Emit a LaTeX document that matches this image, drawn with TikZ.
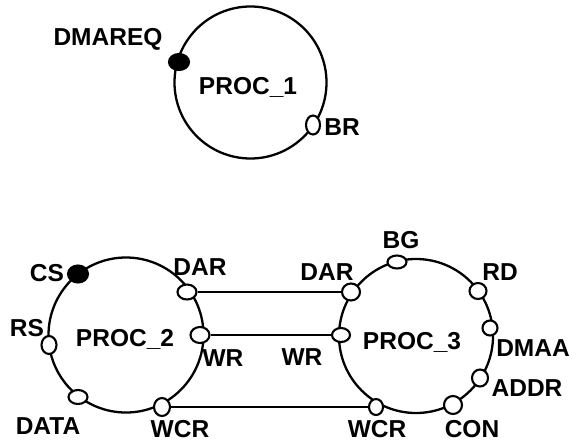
\documentclass[tikz,border=0pt]{standalone}
\usepackage{fontspec}
\setmainfont{Liberation Sans}
\usetikzlibrary{shapes.geometric}
\tikzset{
  proc/.style={circle, draw, line width=2.3pt, inner sep=0pt, minimum size=#1},
  lbl/.style={font=\fontsize{24.5}{25}\selectfont\bfseries, inner sep=0pt, text height=17.5pt, text depth=0pt},
  port/.style={ellipse, draw, line width=2.1pt, fill=white, inner sep=0pt},
  fport/.style={port, fill=black},
  hp/.style={minimum width=19pt, minimum height=14pt},
  vp/.style={minimum width=14pt, minimum height=18pt},
  rp/.style={minimum width=17pt, minimum height=16pt},
  wire/.style={line width=2.3pt}
}
\begin{document}
\begin{tikzpicture}[x=1pt,y=-1pt]
\useasboundingbox (0,0) rectangle (572,442);
% circles
\node[proc=152pt] (p1) at (250.5,82.5) {};
\node[proc=155pt] (p2) at (126,335) {};
\node[proc=154pt] (p3) at (416,336) {};
% titles
\node[lbl] (t1) at (248,86) {PROC\_1};
\node[lbl] (t2) at (125,338) {PROC\_2};
\node[lbl] (t3) at (412,341) {PROC\_3};
% PROC_1 ports
\node[fport, minimum width=20pt, minimum height=16pt] (p1dmareq) at (179,62) {};
\node[port, vp, minimum height=19pt] (p1br) at (313,125) {};
\node[lbl] (l1dmareq) at (108,37) {DMAREQ};
\node[lbl] (l1br) at (342,127) {BR};
% PROC_2 ports
\node[fport, minimum width=20pt, minimum height=17pt] (p2cs) at (78,274) {};
\node[port, hp, minimum height=15pt] (p2dar) at (187,292) {};
\node[port, hp, minimum height=16pt] (p2wr) at (200,335) {};
\node[port, vp, minimum width=15pt] (p2rs) at (49,345) {};
\node[port, hp] (p2data) at (78,397) {};
\node[port, vp, minimum width=16pt] (p2wcr) at (162,407) {};
\node[lbl] (l2cs) at (47,273) {CS};
\node[lbl] (l2dar) at (200,267) {DAR};
\node[lbl] (l2rs) at (27,328) {RS};
\node[lbl] (l2wr) at (223,358) {WR};
\node[lbl] (l2data) at (48,426) {DATA};
\node[lbl] (l2wcr) at (180,429) {WCR};
% PROC_3 ports
\node[port, hp, minimum height=13pt] (p3bg) at (397,262) {};
\node[port, minimum width=18pt, minimum height=17pt] (p3dar) at (351,292) {};
\node[port, rp] (p3rd) at (478,291) {};
\node[port, minimum width=18pt, minimum height=14pt] (p3wr) at (341,335) {};
\node[port, minimum width=15pt, minimum height=15pt] (p3dmaa) at (490,328) {};
\node[port, minimum width=16pt, minimum height=17pt] (p3addr) at (480,378) {};
\node[port, minimum width=14pt, minimum height=16pt] (p3wcr) at (376,407) {};
\node[port, minimum width=18pt, minimum height=18pt] (p3con) at (453,405) {};
\node[lbl] (l3bg) at (401,240) {BG};
\node[lbl] (l3dar) at (327,272) {DAR};
\node[lbl] (l3rd) at (500,272) {RD};
\node[lbl] (l3wr) at (302,357) {WR};
\node[lbl] (l3dmaa) at (533,348) {DMAA};
\node[lbl] (l3addr) at (527,388) {ADDR};
\node[lbl] (l3wcr) at (377,429) {WCR};
\node[lbl] (l3con) at (472,428.5) {CON};
% wires
\draw[wire] (p2dar.east) -- (p3dar.west);
\draw[wire] (p2wr.east) -- (p3wr.west);
\draw[wire] (p2wcr.east) -- (p3wcr.west);
\end{tikzpicture}
\end{document}
